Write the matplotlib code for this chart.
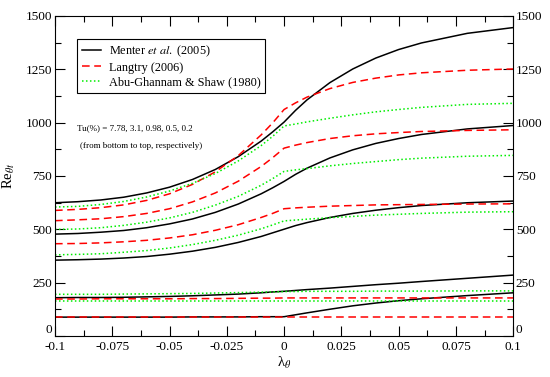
import matplotlib
matplotlib.use("Agg")
import matplotlib.pyplot as plt
from matplotlib.ticker import MultipleLocator, FixedFormatter, FixedLocator

plt.rcParams.update({
    "font.family": "Liberation Serif",
    "mathtext.fontset": "stix",
    "font.size": 9,
})

# pressure-gradient parameter samples (same grid for every curve)
lam = [-0.1, -0.09, -0.08, -0.07, -0.06, -0.05, -0.04, -0.03, -0.02, -0.01, -0.005,
       0.0, 0.005, 0.01, 0.02, 0.03, 0.04, 0.05, 0.06, 0.08, 0.1]

tu_levels = ["7.78", "3.1", "0.98", "0.5", "0.2"]

# Menter et al. (2005), one list per Tu (bottom to top)
menter = {
    "7.78": [88, 88, 88, 88, 88, 88, 89, 89, 89, 90, 90,
             90, 99, 108, 125, 141, 154, 165, 174, 189, 202],
    "3.1":  [179, 180, 180, 181, 183, 185, 188, 192, 196, 202, 206,
             209, 213, 217, 224, 232, 240, 247, 255, 270, 285],
    "0.98": [355, 357, 360, 365, 372, 383, 397, 415, 438, 466, 483,
             500, 517, 531, 555, 574, 589, 601, 611, 624, 632],
    "0.5":  [477, 480, 486, 494, 507, 525, 548, 579, 618, 666, 694,
             724, 757, 786, 834, 872, 902, 925, 944, 970, 986],
    "0.2":  [624, 629, 637, 650, 670, 697, 733, 780, 840, 913, 956,
             1002, 1057, 1106, 1187, 1251, 1302, 1342, 1373, 1418, 1445],
}

# Langtry (2006)
langtry = {
    "7.78": [88] * 21,
    "3.1":  [173, 173, 174, 174, 174, 174, 175, 175, 176, 177, 177,
             178, 178, 178, 178, 178, 178, 178, 178, 178, 178],
    "0.98": [432, 433, 436, 441, 448, 459, 474, 495, 521, 555, 574,
             596, 600, 603, 608, 611, 614, 615, 616, 618, 619],
    "0.5":  [540, 544, 549, 559, 574, 596, 628, 670, 725, 794, 835,
             880, 894, 906, 925, 938, 947, 953, 958, 963, 966],
    "0.2":  [588, 593, 601, 614, 635, 666, 710, 769, 845, 942, 998,
             1061, 1092, 1119, 1159, 1188, 1208, 1223, 1233, 1245, 1251],
}

# Abu-Ghannam & Shaw (1980)
abu = {
    "7.78": [163] * 21,
    "3.1":  [195, 195, 195, 196, 197, 198, 199, 201, 203, 205, 206,
             208, 208, 209, 209, 209, 210, 210, 210, 211, 211],
    "0.98": [380, 382, 385, 392, 400, 412, 428, 448, 472, 502, 520,
             539, 543, 547, 554, 560, 566, 570, 574, 580, 582],
    "0.5":  [499, 501, 507, 518, 533, 553, 579, 613, 654, 706, 737,
             771, 778, 784, 797, 808, 817, 826, 833, 842, 846],
    "0.2":  [604, 607, 616, 630, 651, 679, 715, 761, 820, 892, 935,
             984, 993, 1003, 1020, 1036, 1050, 1061, 1071, 1085, 1090],
}

fig = plt.figure(figsize=(5.5, 3.77), dpi=100)
ax = fig.add_axes([0.1, 0.109, 0.833, 0.849])

for i, tu in enumerate(tu_levels):
    ax.plot(lam, menter[tu], color="black", lw=1.1, ls="-",
            label="Menter $\\mathit{et\\ al.}$ (2005)" if i == 0 else None)
    ax.plot(lam, langtry[tu], color="#ff0000", lw=1.1, ls=(0, (5, 3)),
            label="Langtry (2006)" if i == 0 else None)
    ax.plot(lam, abu[tu], color="#00ee00", lw=1.1, ls=(0, (1, 1.6)),
            label="Abu-Ghannam & Shaw (1980)" if i == 0 else None)

ax.set_xlim(-0.1, 0.1)
ax.set_ylim(0, 1500)
xt = [-0.1, -0.075, -0.05, -0.025, 0, 0.025, 0.05, 0.075, 0.1]
ax.xaxis.set_major_locator(FixedLocator(xt))
ax.xaxis.set_major_formatter(FixedFormatter(
    ["-0.1", "-0.075", "-0.05", "-0.025", "0", "0.025", "0.05", "0.075", "0.1"]))
ax.xaxis.set_minor_locator(MultipleLocator(0.0125))
ax.yaxis.set_major_locator(FixedLocator([0, 250, 500, 750, 1000, 1250, 1500]))
ax.yaxis.set_minor_locator(MultipleLocator(125))
ax.tick_params(which="both", direction="in", top=True, right=True,
               labelright=True, labelsize=9.5, width=0.8)
ax.tick_params(axis="x", pad=4)
ax.tick_params(axis="y", pad=2)
ax.tick_params(which="major", length=7)
ax.tick_params(which="minor", length=4)
for sp in ax.spines.values():
    sp.set_linewidth(0.8)

# lift the "0" labels a little so they sit beside, not on, the x labels
t0 = ax.yaxis.get_major_ticks()[0]
t0.label1.set_va("bottom")
t0.label2.set_va("bottom")

ax.set_xlabel("λ$_{\\theta}$", fontsize=10.5, labelpad=1)
ax.set_ylabel("Re$_{\\theta t}$", fontsize=10.5, labelpad=6)

leg = ax.legend(loc="upper left", bbox_to_anchor=(0.048, 0.928), borderaxespad=0,
                fancybox=False, framealpha=1, edgecolor="black", fontsize=8.8,
                handlelength=1.6, handletextpad=0.6, labelspacing=0.2,
                borderpad=0.4)
leg.get_frame().set_linewidth(0.8)

ax.text(0.048, 0.65, "Tu(%) = 7.78, 3.1, 0.98, 0.5, 0.2",
        transform=ax.transAxes, fontsize=6.5, ha="left", va="center")
ax.text(0.055, 0.594, "(from bottom to top, respectively)",
        transform=ax.transAxes, fontsize=6.5, ha="left", va="center")

fig.savefig("out.png", dpi=100, facecolor="white")
